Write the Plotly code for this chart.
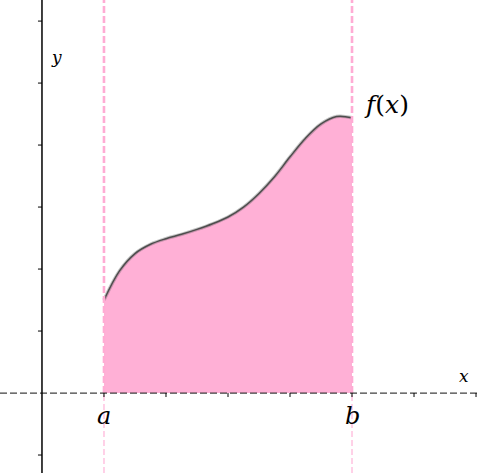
import plotly.graph_objects as go

# Data
curve_x = [1.0, 1.25, 1.5, 1.75, 2.0, 2.25, 2.5, 2.75, 3.0, 3.25, 3.5, 3.75, 4.0, 4.25, 4.5, 4.75, 5.0]
curve_y = [1.50, 1.97, 2.25, 2.40, 2.49, 2.56, 2.64, 2.73, 2.84, 3.00, 3.22, 3.49, 3.81, 4.11, 4.34, 4.46, 4.44]
bounds = [1.0, 5.0]
bound_labels = ["a", "b"]
x_ticks = [1, 2, 3, 4, 5, 6, 7]
y_ticks = [-1, 1, 2, 3, 4, 5, 6]

X_RANGE = [-0.677, 7.048]
Y_RANGE = [-1.29, 6.34]

PINK_FILL = "rgb(255,176,214)"
PINK_LINE = "rgb(255,172,212)"
SERIF = "DejaVu Serif"

fig = go.Figure()

fig.add_trace(go.Scatter(
    x=curve_x, y=curve_y, mode="lines",
    line=dict(color="rgba(90,90,90,0.35)", width=3.5, shape="spline", smoothing=1.0),
    fill="tozeroy", fillcolor=PINK_FILL, hoverinfo="skip", showlegend=False,
))
fig.add_trace(go.Scatter(
    x=curve_x, y=curve_y, mode="lines",
    line=dict(color="#4d4d4d", width=1.5, shape="spline", smoothing=1.0),
    hoverinfo="skip", showlegend=False,
))

shapes = []
# vertical dashed bound lines
for b in bounds:
    shapes.append(dict(type="line", xref="x", yref="y", x0=b, x1=b, y0=0, y1=Y_RANGE[1],
                       line=dict(color=PINK_LINE, width=2.6, dash="7px,3px"), layer="above"))
    shapes.append(dict(type="line", xref="x", yref="y", x0=b, x1=b, y0=Y_RANGE[0], y1=0,
                       line=dict(color="rgb(255,190,222)", width=1.4, dash="6px,3px"), layer="above"))
# x axis (dashed)
shapes.append(dict(type="line", xref="paper", yref="y", x0=0, x1=1, y0=0, y1=0,
                   line=dict(color="rgba(30,30,30,0.85)", width=1.2, dash="7px,3px"), layer="above"))
# y axis (solid)
shapes.append(dict(type="line", xref="x", yref="paper", x0=0, x1=0, y0=0, y1=1,
                   line=dict(color="black", width=1.5), layer="above"))
# ticks
for t in x_ticks:
    shapes.append(dict(type="line", xref="x", yref="y", xsizemode="scaled",
                       ysizemode="pixel", yanchor=0, x0=t, x1=t, y0=0, y1=-4,
                       line=dict(color="black", width=1), layer="above"))
for t in y_ticks:
    shapes.append(dict(type="line", xref="x", yref="y", xsizemode="pixel", xanchor=0,
                       x0=0, x1=-4, y0=t, y1=t,
                       line=dict(color="black", width=1), layer="above"))

annotations = []
for b, lab in zip(bounds, bound_labels):
    annotations.append(dict(x=b, y=-0.37, xref="x", yref="y", text=f"<i>{lab}</i>",
                            showarrow=False, font=dict(family=SERIF, size=24, color="black"),
                            xanchor="center", yanchor="middle"))
annotations.append(dict(x=5.55, y=4.65, xref="x", yref="y", text="<i>f</i>(<i>x</i>)",
                        showarrow=False, font=dict(family=SERIF, size=25, color="black"),
                        xanchor="center", yanchor="middle"))
annotations.append(dict(x=6.81, y=0.27, xref="x", yref="y", text="<i>x</i>",
                        showarrow=False, font=dict(family=SERIF, size=17, color="black"),
                        xanchor="center", yanchor="middle"))
annotations.append(dict(x=0.24, y=5.42, xref="x", yref="y", text="<i>y</i>",
                        showarrow=False, font=dict(family=SERIF, size=17, color="black"),
                        xanchor="center", yanchor="middle"))

fig.update_layout(
    width=479, height=473,
    margin=dict(l=0, r=0, t=0, b=0),
    paper_bgcolor="white", plot_bgcolor="white",
    xaxis=dict(range=X_RANGE, visible=False, showgrid=False, zeroline=False, fixedrange=True),
    yaxis=dict(range=Y_RANGE, visible=False, showgrid=False, zeroline=False, fixedrange=True),
    shapes=shapes, annotations=annotations, showlegend=False,
)

fig.write_html("out.html", config={"displayModeBar": False},
               post_script="document.body.style.margin='0';document.body.style.overflow='hidden';")
